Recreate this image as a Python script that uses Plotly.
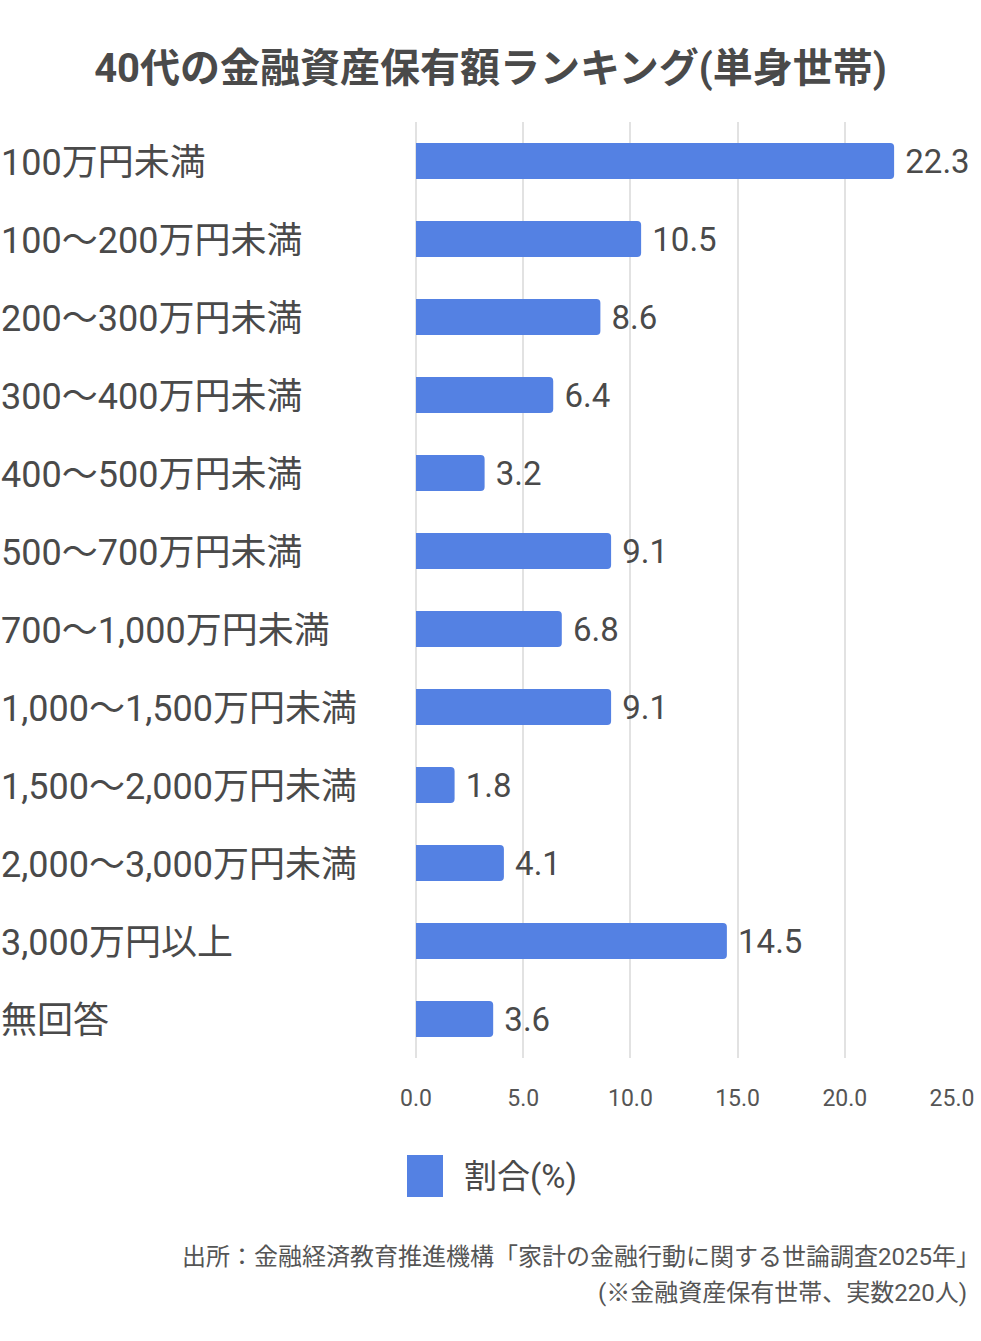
import plotly.graph_objects as go

# データ (単位: %)
categories = ['100万円未満', '100〜200万円未満', '200〜300万円未満', '300〜400万円未満',
              '400〜500万円未満', '500〜700万円未満', '700〜1,000万円未満', '1,000〜1,500万円未満',
              '1,500〜2,000万円未満', '2,000〜3,000万円未満', '3,000万円以上', '無回答']
values = [22.3, 10.5, 8.6, 6.4, 3.2, 9.1, 6.8, 9.1, 1.8, 4.1, 14.5, 3.6]
tick_vals = [0, 5, 10, 15, 20, 25]
tick_text = ['0.0', '5.0', '10.0', '15.0', '20.0', '25.0']
series_name = '割合(%)'
title = '40代の金融資産保有額ランキング(単身世帯)'
source = ['出所：金融経済教育推進機構「家計の金融行動に関する世論調査2025年」',
          '(※金融資産保有世帯、実数220人)']

W, H = 981, 1341
FONT = 'Roboto, Noto Sans CJK JP'
BLUE = '#5481E3'
TXT = '#4a4a4a'

fig = go.Figure()
fig.add_trace(go.Bar(x=values, y=categories, orientation='h', name=series_name,
                     marker=dict(color=BLUE, line=dict(width=0)),
                     texttemplate='\u00a0%{x:.1f}', textposition='outside', constraintext='none',
                     textfont=dict(size=33, color=TXT, family=FONT),
                     cliponaxis=False, showlegend=False))

# 左寄せのカテゴリラベル
for c in categories:
    fig.add_annotation(x=0, xref='paper', y=c, yref='y', text=c, showarrow=False, yshift=-2,
                       xanchor='left', borderpad=0, font=dict(size=36, color=TXT, family=FONT))

# 凡例 (大きめの四角)
fig.add_shape(type='rect', xref='paper', yref='paper',
              x0=407 / W, x1=443 / W, y0=1 - 1197 / H, y1=1 - 1155 / H,
              fillcolor=BLUE, line=dict(width=0))
fig.add_annotation(x=462 / W, y=1 - 1176 / H, xref='paper', yref='paper', text=series_name,
                   showarrow=False, xanchor='left', yanchor='middle',
                   font=dict(size=33, color=TXT, family=FONT))

# 出所 (右端揃え)
for s, xr, yc in zip(source, [982, 969], [1257, 1293]):
    fig.add_annotation(x=xr / W, y=1 - yc / H, xref='paper', yref='paper', text=s,
                       showarrow=False, xanchor='right', yanchor='middle',
                       font=dict(size=24, color='#555555', family=FONT))

fig.update_layout(
    width=W, height=H, autosize=False,
    margin=dict(l=0, r=0, t=0, b=0, autoexpand=False),
    paper_bgcolor='white', plot_bgcolor='white',
    font=dict(family=FONT, color=TXT),
    title=dict(text='<b>' + title + '</b>', x=0.5, xanchor='center', y=1 - 68 / H, yanchor='middle',
               font=dict(size=40, color=TXT, family=FONT)),
    bargap=0.54,
    barcornerradius=4,
    xaxis=dict(domain=[416 / W, 952 / W], range=[0, 25], tickvals=tick_vals, ticktext=tick_text,
               showgrid=True, gridcolor='#e2e2e2', gridwidth=2, zeroline=True, zerolinecolor='#e2e2e2',
               zerolinewidth=2, showline=False, ticks='', ticklabelstandoff=24, automargin=False,
               tickfont=dict(size=23, color='#555555', family=FONT), fixedrange=True),
    yaxis=dict(domain=[1 - 1058 / H, 1 - 122 / H], autorange='reversed', showticklabels=False,
               showgrid=False, zeroline=False, showline=False, ticks='', automargin=False,
               fixedrange=True),
)

fig.write_html("out.html", config={'displayModeBar': False},
               post_script="document.body.style.margin='0';")
